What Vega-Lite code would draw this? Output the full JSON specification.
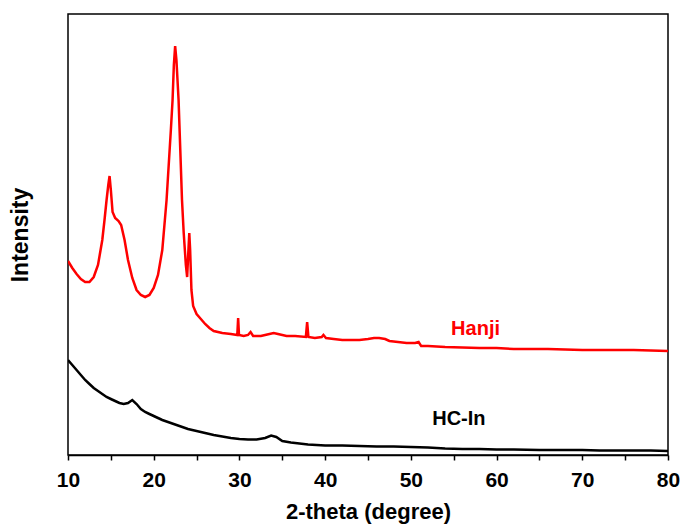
{
  "$schema": "https://vega.github.io/schema/vega-lite/v6.json",
  "width": 600,
  "height": 441,
  "autosize": "none",
  "padding": {"left": 68, "top": 14, "right": 16, "bottom": 76},
  "background": "white",
  "config": {
    "view": {"stroke": "#000000", "strokeWidth": 1.5},
    "font": "Liberation Sans",
    "axis": {
      "labelFont": "Liberation Sans",
      "labelFontSize": 21,
      "labelFontWeight": "bold",
      "labelColor": "#000000",
      "titleFont": "Liberation Sans",
      "titleFontSize": 22,
      "titleFontWeight": "bold",
      "titleColor": "#000000",
      "grid": false
    }
  },
  "datasets": {
    "xrd": [
      {"x": 10.0, "y": 194, "s": "Hanji"}, {"x": 10.5, "y": 187, "s": "Hanji"}, {"x": 11.0, "y": 181, "s": "Hanji"}, {"x": 11.5, "y": 176, "s": "Hanji"}, {"x": 12.0, "y": 173, "s": "Hanji"}, {"x": 12.5, "y": 173, "s": "Hanji"}, {"x": 13.0, "y": 178, "s": "Hanji"}, {"x": 13.5, "y": 190, "s": "Hanji"}, {"x": 13.7, "y": 200, "s": "Hanji"}, {"x": 14.0, "y": 215, "s": "Hanji"}, {"x": 14.26, "y": 235, "s": "Hanji"}, {"x": 14.5, "y": 255, "s": "Hanji"}, {"x": 14.7, "y": 270, "s": "Hanji"}, {"x": 14.85, "y": 279, "s": "Hanji"}, {"x": 15.0, "y": 265, "s": "Hanji"}, {"x": 15.2, "y": 243, "s": "Hanji"}, {"x": 15.5, "y": 237, "s": "Hanji"}, {"x": 15.9, "y": 234, "s": "Hanji"}, {"x": 16.2, "y": 230, "s": "Hanji"}, {"x": 16.6, "y": 215, "s": "Hanji"}, {"x": 17.0, "y": 195, "s": "Hanji"}, {"x": 17.5, "y": 177, "s": "Hanji"}, {"x": 18.0, "y": 165, "s": "Hanji"}, {"x": 18.5, "y": 160, "s": "Hanji"}, {"x": 19.0, "y": 158, "s": "Hanji"}, {"x": 19.5, "y": 160, "s": "Hanji"}, {"x": 20.0, "y": 167, "s": "Hanji"}, {"x": 20.5, "y": 180, "s": "Hanji"}, {"x": 21.0, "y": 205, "s": "Hanji"}, {"x": 21.5, "y": 255, "s": "Hanji"}, {"x": 22.0, "y": 325, "s": "Hanji"}, {"x": 22.2, "y": 355, "s": "Hanji"}, {"x": 22.35, "y": 390, "s": "Hanji"}, {"x": 22.5, "y": 409, "s": "Hanji"}, {"x": 22.65, "y": 395, "s": "Hanji"}, {"x": 22.9, "y": 355, "s": "Hanji"}, {"x": 23.1, "y": 305, "s": "Hanji"}, {"x": 23.3, "y": 255, "s": "Hanji"}, {"x": 23.5, "y": 222, "s": "Hanji"}, {"x": 23.75, "y": 190, "s": "Hanji"}, {"x": 23.9, "y": 178, "s": "Hanji"}, {"x": 24.05, "y": 205, "s": "Hanji"}, {"x": 24.15, "y": 222, "s": "Hanji"}, {"x": 24.25, "y": 205, "s": "Hanji"}, {"x": 24.4, "y": 165, "s": "Hanji"}, {"x": 24.6, "y": 149, "s": "Hanji"}, {"x": 25.0, "y": 141, "s": "Hanji"}, {"x": 25.5, "y": 136, "s": "Hanji"}, {"x": 26.0, "y": 131, "s": "Hanji"}, {"x": 26.5, "y": 127, "s": "Hanji"}, {"x": 27.0, "y": 124, "s": "Hanji"}, {"x": 28.0, "y": 122, "s": "Hanji"}, {"x": 29.0, "y": 121, "s": "Hanji"}, {"x": 29.75, "y": 120, "s": "Hanji"}, {"x": 29.85, "y": 137, "s": "Hanji"}, {"x": 29.95, "y": 120, "s": "Hanji"}, {"x": 30.5, "y": 119, "s": "Hanji"}, {"x": 31.0, "y": 120, "s": "Hanji"}, {"x": 31.3, "y": 123, "s": "Hanji"}, {"x": 31.6, "y": 119, "s": "Hanji"}, {"x": 32.5, "y": 119, "s": "Hanji"}, {"x": 33.5, "y": 121, "s": "Hanji"}, {"x": 34.0, "y": 122, "s": "Hanji"}, {"x": 34.5, "y": 121, "s": "Hanji"}, {"x": 35.5, "y": 119, "s": "Hanji"}, {"x": 36.5, "y": 119, "s": "Hanji"}, {"x": 37.75, "y": 118, "s": "Hanji"}, {"x": 37.9, "y": 133, "s": "Hanji"}, {"x": 38.05, "y": 118, "s": "Hanji"}, {"x": 38.8, "y": 117, "s": "Hanji"}, {"x": 39.6, "y": 118, "s": "Hanji"}, {"x": 39.8, "y": 120, "s": "Hanji"}, {"x": 40.1, "y": 117, "s": "Hanji"}, {"x": 41.0, "y": 116, "s": "Hanji"}, {"x": 42.0, "y": 115, "s": "Hanji"}, {"x": 43.0, "y": 115, "s": "Hanji"}, {"x": 44.0, "y": 115, "s": "Hanji"}, {"x": 45.0, "y": 116, "s": "Hanji"}, {"x": 45.7, "y": 117, "s": "Hanji"}, {"x": 46.3, "y": 117, "s": "Hanji"}, {"x": 47.0, "y": 116, "s": "Hanji"}, {"x": 47.5, "y": 114, "s": "Hanji"}, {"x": 48.5, "y": 113, "s": "Hanji"}, {"x": 49.5, "y": 112, "s": "Hanji"}, {"x": 50.5, "y": 112, "s": "Hanji"}, {"x": 50.9, "y": 113, "s": "Hanji"}, {"x": 51.2, "y": 109, "s": "Hanji"}, {"x": 52.0, "y": 109, "s": "Hanji"}, {"x": 54.0, "y": 108, "s": "Hanji"}, {"x": 56.0, "y": 107.5, "s": "Hanji"}, {"x": 58.0, "y": 107, "s": "Hanji"}, {"x": 60.0, "y": 107, "s": "Hanji"}, {"x": 62.0, "y": 106, "s": "Hanji"}, {"x": 64.0, "y": 106, "s": "Hanji"}, {"x": 66.0, "y": 106, "s": "Hanji"}, {"x": 68.0, "y": 105.5, "s": "Hanji"}, {"x": 70.0, "y": 105, "s": "Hanji"}, {"x": 72.0, "y": 105, "s": "Hanji"}, {"x": 74.0, "y": 105, "s": "Hanji"}, {"x": 76.0, "y": 105, "s": "Hanji"}, {"x": 78.0, "y": 104.5, "s": "Hanji"}, {"x": 80.0, "y": 104, "s": "Hanji"},
      {"x": 10.0, "y": 95, "s": "HC-In"}, {"x": 10.5, "y": 90, "s": "HC-In"}, {"x": 11.0, "y": 85, "s": "HC-In"}, {"x": 11.5, "y": 80, "s": "HC-In"}, {"x": 12.0, "y": 75, "s": "HC-In"}, {"x": 12.5, "y": 71, "s": "HC-In"}, {"x": 13.0, "y": 67, "s": "HC-In"}, {"x": 13.5, "y": 64, "s": "HC-In"}, {"x": 14.0, "y": 61, "s": "HC-In"}, {"x": 14.5, "y": 58, "s": "HC-In"}, {"x": 15.0, "y": 56, "s": "HC-In"}, {"x": 15.5, "y": 54, "s": "HC-In"}, {"x": 16.0, "y": 52, "s": "HC-In"}, {"x": 16.5, "y": 51, "s": "HC-In"}, {"x": 17.0, "y": 52, "s": "HC-In"}, {"x": 17.5, "y": 55, "s": "HC-In"}, {"x": 18.0, "y": 51, "s": "HC-In"}, {"x": 18.5, "y": 46, "s": "HC-In"}, {"x": 19.0, "y": 43, "s": "HC-In"}, {"x": 19.5, "y": 41, "s": "HC-In"}, {"x": 20.0, "y": 39, "s": "HC-In"}, {"x": 20.5, "y": 37, "s": "HC-In"}, {"x": 21.0, "y": 35, "s": "HC-In"}, {"x": 22.0, "y": 32, "s": "HC-In"}, {"x": 23.0, "y": 29, "s": "HC-In"}, {"x": 24.0, "y": 26, "s": "HC-In"}, {"x": 25.0, "y": 24, "s": "HC-In"}, {"x": 26.0, "y": 22, "s": "HC-In"}, {"x": 27.0, "y": 20, "s": "HC-In"}, {"x": 28.0, "y": 18.5, "s": "HC-In"}, {"x": 29.0, "y": 17, "s": "HC-In"}, {"x": 30.0, "y": 16, "s": "HC-In"}, {"x": 31.0, "y": 15.5, "s": "HC-In"}, {"x": 32.0, "y": 15.5, "s": "HC-In"}, {"x": 33.0, "y": 17, "s": "HC-In"}, {"x": 33.7, "y": 19.5, "s": "HC-In"}, {"x": 34.3, "y": 18, "s": "HC-In"}, {"x": 35.0, "y": 14, "s": "HC-In"}, {"x": 36.0, "y": 12.5, "s": "HC-In"}, {"x": 37.0, "y": 11.5, "s": "HC-In"}, {"x": 38.0, "y": 10.5, "s": "HC-In"}, {"x": 40.0, "y": 9.5, "s": "HC-In"}, {"x": 42.0, "y": 9.5, "s": "HC-In"}, {"x": 44.0, "y": 9, "s": "HC-In"}, {"x": 46.0, "y": 8.5, "s": "HC-In"}, {"x": 48.0, "y": 8.5, "s": "HC-In"}, {"x": 50.0, "y": 8, "s": "HC-In"}, {"x": 52.0, "y": 7.5, "s": "HC-In"}, {"x": 54.0, "y": 6.5, "s": "HC-In"}, {"x": 56.0, "y": 6, "s": "HC-In"}, {"x": 58.0, "y": 6, "s": "HC-In"}, {"x": 60.0, "y": 5.5, "s": "HC-In"}, {"x": 62.0, "y": 5.5, "s": "HC-In"}, {"x": 65.0, "y": 5, "s": "HC-In"}, {"x": 68.0, "y": 5, "s": "HC-In"}, {"x": 70.0, "y": 5, "s": "HC-In"}, {"x": 72.0, "y": 4.5, "s": "HC-In"}, {"x": 75.0, "y": 4.5, "s": "HC-In"}, {"x": 78.0, "y": 4.5, "s": "HC-In"}, {"x": 80.0, "y": 4, "s": "HC-In"}
    ],
    "labels": [
      {"x": 57.55, "y": 126, "s": "Hanji"},
      {"x": 55.6, "y": 36, "s": "HC-In"}
    ]
  },
  "layer": [
    {
      "data": {"name": "xrd"},
      "mark": {"type": "line", "strokeWidth": 2.5, "clip": true},
      "encoding": {
        "x": {
          "field": "x", "type": "quantitative",
          "scale": {"domain": [10, 80], "nice": false, "zero": false},
          "axis": {
            "title": "2-theta (degree)",
            "values": [10, 15, 20, 25, 30, 35, 40, 45, 50, 55, 60, 65, 70, 75, 80],
            "labelExpr": "datum.value % 10 === 0 ? datum.label : ''",
            "labelOverlap": false,
            "labelFlush": false,
            "domainColor": "#000000",
            "domainWidth": 1.5,
            "tickColor": "#000000",
            "tickWidth": 1.5,
            "tickSize": 5,
            "labelPadding": 9,
            "titlePadding": 11
          }
        },
        "y": {
          "field": "y", "type": "quantitative",
          "scale": {"domain": [0, 441], "nice": false},
          "axis": {
            "title": "Intensity",
            "titleFontSize": 23,
            "labels": false,
            "ticks": false,
            "domain": false,
            "titlePadding": 36
          }
        },
        "color": {
          "field": "s", "type": "nominal",
          "scale": {"domain": ["Hanji", "HC-In"], "range": ["#ff0000", "#000000"]},
          "legend": null
        }
      }
    },
    {
      "data": {"name": "labels"},
      "mark": {"type": "text", "font": "Liberation Sans", "fontSize": 20, "fontWeight": "bold", "align": "center", "baseline": "middle"},
      "encoding": {
        "x": {"field": "x", "type": "quantitative"},
        "y": {"field": "y", "type": "quantitative"},
        "text": {"field": "s"},
        "color": {"field": "s", "type": "nominal", "legend": null}
      }
    }
  ]
}
